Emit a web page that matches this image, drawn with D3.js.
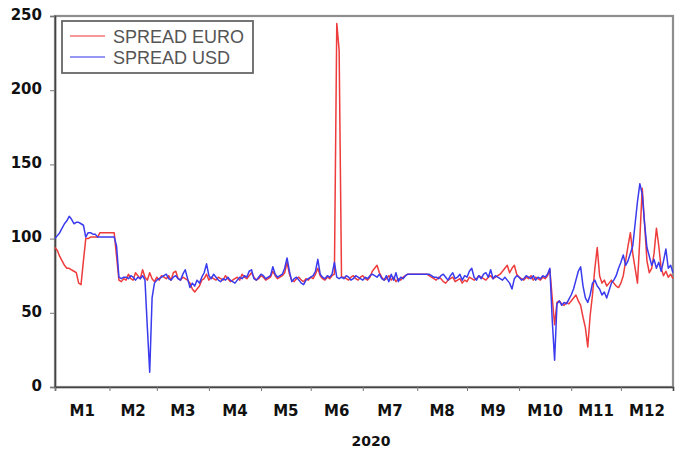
<!DOCTYPE html>
<html><head><meta charset="utf-8">
<script src="https://cdn.jsdelivr.net/npm/d3@7/dist/d3.min.js"></script>
<style>body{margin:0;background:#fff}svg{display:block}</style>
</head><body><svg id="c" width="680" height="451"></svg>
<script>
const monthLabels = ["M1","M2","M3","M4","M5","M6","M7","M8","M9","M10","M11","M12"];
const businessDaysPerMonth = [23,20,22,22,21,22,23,21,22,22,21,23];
const yTicks = [0,50,100,150,200,250];
const yearLabel = "2020";
const seriesNames = ["SPREAD EURO","SPREAD USD"];

const spreadEuro = [
94,92,88,85,82,80,80,79,78,77,
70,69,85,100,100,101,101,101,101,104,
104,104,104,104,104,104,88,72,71,73,
72,76,73,72,77,75,73,79,74,72,
77,73,71,74,72,75,74,73,75,72,
77,78,73,72,74,73,72,70,66,64,
66,68,72,73,76,72,74,73,72,74,
73,72,75,73,71,72,73,74,72,76,
74,73,75,77,74,72,73,75,74,72,
73,74,78,75,73,74,75,77,84,76,
72,71,73,74,72,71,73,72,74,73,
76,80,75,73,72,74,73,75,76,245,
227,74,74,73,72,74,75,73,72,74,
75,73,72,74,78,80,82,77,74,72,
73,75,72,74,71,73,72,74,75,76,
76,76,76,76,76,76,76,76,75,74,
73,72,74,73,71,70,72,73,74,71,
72,73,70,72,71,74,73,72,73,75,
74,73,72,74,75,73,74,75,76,78,
80,82,77,80,82,76,74,73,72,74,
73,75,72,74,73,72,74,73,75,79,
60,42,57,58,56,55,57,56,58,60,
62,58,55,47,40,27,48,62,80,94,
75,70,72,68,70,72,70,68,67,70,
75,85,95,104,90,80,70,100,134,110,
85,77,80,90,107,95,80,75,78,74,
76,73];

const spreadUsd = [
100,102,104,107,110,112,115,113,110,111,
111,110,109,101,104,104,103,103,101,101,
101,101,101,101,101,101,95,74,73,74,
74,73,75,74,72,74,73,75,72,40,
10,60,70,72,73,74,75,76,73,72,
74,75,73,72,76,79,73,67,70,68,
72,70,74,77,83,75,73,76,74,72,
71,73,72,74,72,71,70,72,74,73,
75,74,78,79,73,72,74,76,75,73,
74,75,81,76,74,75,76,80,87,78,
71,73,74,72,70,69,72,73,74,75,
78,86,76,74,73,75,74,76,84,74,
73,74,73,75,74,72,73,75,74,73,
72,74,73,75,76,75,74,76,73,72,
75,71,76,72,77,71,74,73,75,76,
76,76,76,76,76,76,76,76,76,75,
74,74,73,75,76,74,72,75,77,73,
74,76,72,75,74,78,80,74,72,75,
73,76,77,74,79,73,75,74,73,72,
74,72,70,66,73,75,74,72,73,75,
74,73,75,72,74,73,75,74,76,80,
45,18,56,58,55,57,56,59,62,66,
72,78,81,68,60,57,62,70,72,68,
66,62,64,60,65,70,72,75,80,84,
89,82,85,90,95,110,125,137,130,110,
94,88,82,86,80,84,78,85,93,80,
82,77];

const svg = d3.select("#c");
const L = 55, R = 673, T = 16, B = 387;
const x = d3.scaleLinear().domain([0, spreadEuro.length - 1]).range([L, R]);
const y = d3.scaleLinear().domain([0, 250]).range([B, T]);

svg.append("rect").attr("width", 680).attr("height", 451).attr("fill", "#fff");

// frame
svg.append("rect").attr("x", L).attr("y", T).attr("width", R - L).attr("height", B - T)
  .attr("fill", "#fff").attr("stroke", "#8e8e8e").attr("stroke-width", 2.2);

// month starts
const starts = [];
let acc = 0;
businessDaysPerMonth.forEach(d => { starts.push(acc); acc += d; });
const ends = starts.slice(1).concat([acc - 1]);

const font = "'DejaVu Sans', Verdana, sans-serif";

// y axis
const yAxis = svg.append("g").attr("transform", `translate(${L},0)`)
  .call(d3.axisLeft(y).tickValues(yTicks).tickSize(5).tickPadding(8));
yAxis.select(".domain").attr("stroke", "#444").attr("stroke-width", 1.6);
yAxis.selectAll(".tick line").attr("stroke", "#777");
yAxis.selectAll(".tick text").attr("font-family", font).attr("font-weight", "bold")
  .attr("font-size", 15).attr("fill", "#111").attr("dy", "0.22em");

// x axis ticks
const xAxis = svg.append("g").attr("transform", `translate(0,${B})`)
  .call(d3.axisBottom(x).tickValues(starts).tickSize(4).tickFormat(""));
xAxis.select(".domain").attr("stroke", "#444").attr("stroke-width", 1.6);
xAxis.selectAll(".tick line").attr("stroke", "#777");

svg.append("g").selectAll("text").data(monthLabels).join("text")
  .attr("x", (d, i) => x((starts[i] + ends[i]) / 2))
  .attr("y", 416)
  .attr("text-anchor", "middle")
  .attr("font-family", font).attr("font-weight", "bold").attr("font-size", 15)
  .attr("fill", "#111")
  .text(d => d);

svg.append("text").attr("x", 371).attr("y", 446).attr("text-anchor", "middle")
  .attr("font-family", font).attr("font-weight", "bold").attr("font-size", 14)
  .attr("fill", "#111").text(yearLabel);

// lines
const line = d3.line().x((d, i) => x(i)).y(d => y(d));
const colors = ["#ee3b3b", "#3a3aee"];
svg.append("path").datum(spreadEuro).attr("d", line).attr("fill", "none")
  .attr("stroke", colors[0]).attr("stroke-width", 1.5).attr("stroke-linejoin", "round");
svg.append("path").datum(spreadUsd).attr("d", line).attr("fill", "none")
  .attr("stroke", colors[1]).attr("stroke-width", 1.5).attr("stroke-linejoin", "round");

// legend
const lg = svg.append("g");
lg.append("rect").attr("x", 62).attr("y", 21).attr("width", 191).attr("height", 52)
  .attr("fill", "#fff").attr("stroke", "#666").attr("stroke-width", 1.8);
seriesNames.forEach((n, i) => {
  const yy = 36 + i * 21;
  lg.append("line").attr("x1", 70).attr("x2", 105).attr("y1", yy).attr("y2", yy)
    .attr("stroke", colors[i]).attr("stroke-width", 1.6).attr("opacity", 0.7);
  lg.append("text").attr("x", 113).attr("y", yy + 6.5)
    .attr("font-family", "'Liberation Sans', Arial, sans-serif").attr("font-size", 18)
    .attr("fill", "#555").text(n);
});
</script></body></html>
